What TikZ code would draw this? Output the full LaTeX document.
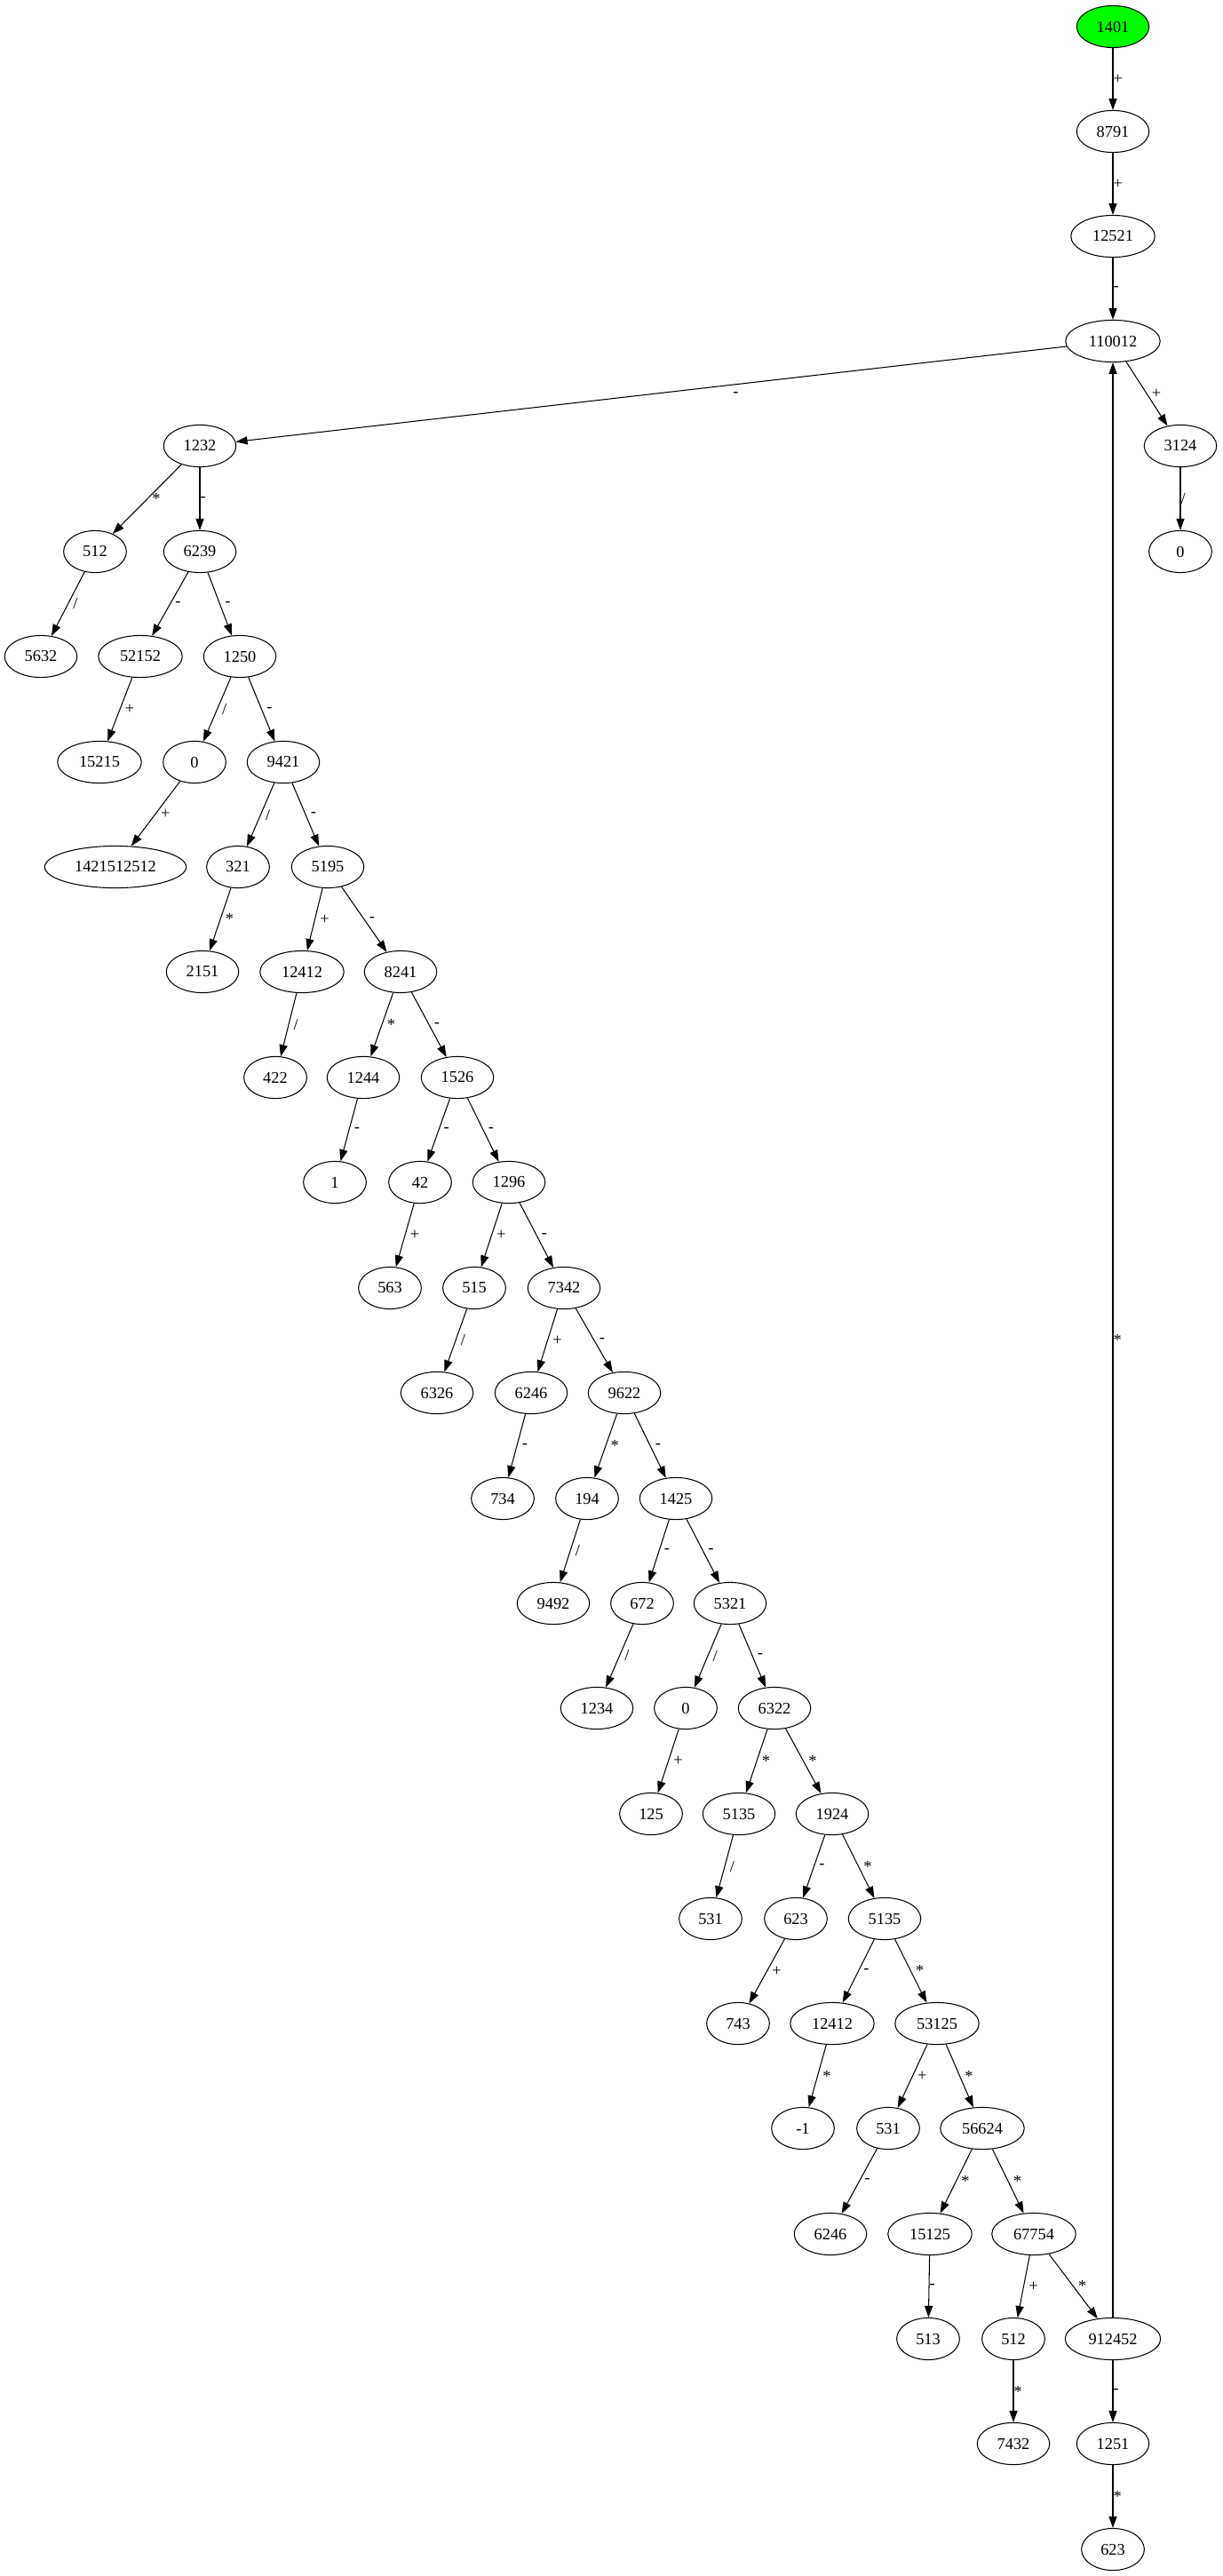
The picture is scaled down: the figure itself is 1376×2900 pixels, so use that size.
\documentclass[tikz,border=0pt]{standalone}
\usepackage{fontspec}
\setmainfont{Liberation Serif}
\usetikzlibrary{arrows.meta,shapes.geometric}
\definecolor{rootgreen}{RGB}{0,255,0}
\begin{document}
\begin{tikzpicture}[>={Triangle[length=10pt,width=7pt]},x=0.7634pt,y=-0.7634pt,line width=0.8pt,
	every node/.style={font=\fontsize{14}{16}\selectfont},
	num/.style={ellipse,draw,line width=0.8pt,minimum width=54pt,minimum height=36pt,inner xsep=8pt,inner ysep=2pt},
	lbl/.style={midway,anchor=west,inner sep=0pt,xshift=4pt},
	vlbl/.style={midway,anchor=west,inner sep=0pt,xshift=0pt}]
		\useasboundingbox (0,0) rectangle (1376,2900);
		\node[num,fill=rootgreen] (n1401) at (1253,30) {1401};
		\node[num] (n8791) at (1253,148) {8791};
		\node[num] (n12521) at (1253,266) {12521};
		\node[num] (n110012) at (1253,384) {110012};
		\node[num] (n1232) at (225,502) {1232};
		\node[num] (n3124) at (1329,502) {3124};
		\node[num] (n512a) at (107,621) {512};
		\node[num] (n6239) at (225,621) {6239};
		\node[num] (n0a) at (1329,621) {0};
		\node[num] (n5632) at (46,739) {5632};
		\node[num] (n52152) at (158,739) {52152};
		\node[num] (n1250) at (270,739) {1250};
		\node[num] (n15215) at (112,858) {15215};
		\node[num] (n0b) at (219,858) {0};
		\node[num] (n9421) at (319,858) {9421};
		\node[num] (n1421512512) at (130,976) {1421512512};
		\node[num] (n321) at (268,976) {321};
		\node[num] (n5195) at (369,976) {5195};
		\node[num] (n2151) at (228,1094) {2151};
		\node[num] (n12412a) at (340,1094) {12412};
		\node[num] (n8241) at (451,1094) {8241};
		\node[num] (n422) at (310,1213) {422};
		\node[num] (n1244) at (409,1213) {1244};
		\node[num] (n1526) at (515,1213) {1526};
		\node[num] (n1) at (377,1331) {1};
		\node[num] (n42) at (473,1331) {42};
		\node[num] (n1296) at (573,1331) {1296};
		\node[num] (n563) at (439,1450) {563};
		\node[num] (n515) at (534,1450) {515};
		\node[num] (n7342) at (635,1450) {7342};
		\node[num] (n6326) at (492,1568) {6326};
		\node[num] (n6246a) at (598,1568) {6246};
		\node[num] (n9622) at (703,1568) {9622};
		\node[num] (n734) at (566,1687) {734};
		\node[num] (n194) at (661,1687) {194};
		\node[num] (n1425) at (761,1687) {1425};
		\node[num] (n9492) at (623,1805) {9492};
		\node[num] (n672) at (723,1805) {672};
		\node[num] (n5321) at (822,1805) {5321};
		\node[num] (n1234) at (672,1923) {1234};
		\node[num] (n0c) at (772,1923) {0};
		\node[num] (n6322) at (872,1923) {6322};
		\node[num] (n125) at (733,2042) {125};
		\node[num] (n5135a) at (832,2042) {5135};
		\node[num] (n1924) at (937,2042) {1924};
		\node[num] (n531a) at (800,2160) {531};
		\node[num] (n623a) at (896,2160) {623};
		\node[num] (n5135b) at (996,2160) {5135};
		\node[num] (n743) at (831,2278) {743};
		\node[num] (n12412b) at (937,2278) {12412};
		\node[num] (n53125) at (1055,2278) {53125};
		\node[num] (nm1) at (904,2396) {-1};
		\node[num] (n531b) at (1000,2396) {531};
		\node[num] (n56624) at (1106,2396) {56624};
		\node[num] (n6246b) at (935,2515) {6246};
		\node[num] (n15125) at (1047,2515) {15125};
		\node[num] (n67754) at (1164,2515) {67754};
		\node[num] (n513) at (1045,2633) {513};
		\node[num] (n512b) at (1141,2633) {512};
		\node[num] (n912452) at (1253,2633) {912452};
		\node[num] (n7432) at (1141,2751) {7432};
		\node[num] (n1251) at (1253,2751) {1251};
		\node[num] (n623b) at (1253,2870) {623};
		\draw[->] (n1401) -- node[vlbl]{+} (n8791);
		\draw[->] (n8791) -- node[vlbl]{+} (n12521);
		\draw[->] (n12521) -- node[vlbl]{-} (n110012);
		\draw[->] (n110012) -- node[lbl,xshift=66pt]{-} (n1232);
		\draw[->] (n110012) -- node[lbl]{+} (n3124);
		\draw[->] (n3124) -- node[vlbl]{/} (n0a);
		\draw[->] (n1232) -- node[lbl]{*} (n512a);
		\draw[->] (n1232) -- node[vlbl]{-} (n6239);
		\draw[->] (n512a) -- node[lbl]{/} (n5632);
		\draw[->] (n6239) -- node[lbl]{-} (n52152);
		\draw[->] (n6239) -- node[lbl]{-} (n1250);
		\draw[->] (n52152) -- node[lbl]{+} (n15215);
		\draw[->] (n1250) -- node[lbl]{/} (n0b);
		\draw[->] (n1250) -- node[lbl]{-} (n9421);
		\draw[->] (n0b) -- node[lbl]{+} (n1421512512);
		\draw[->] (n9421) -- node[lbl]{/} (n321);
		\draw[->] (n9421) -- node[lbl]{-} (n5195);
		\draw[->] (n321) -- node[lbl]{*} (n2151);
		\draw[->] (n5195) -- node[lbl]{+} (n12412a);
		\draw[->] (n5195) -- node[lbl]{-} (n8241);
		\draw[->] (n12412a) -- node[lbl]{/} (n422);
		\draw[->] (n8241) -- node[lbl]{*} (n1244);
		\draw[->] (n8241) -- node[lbl]{-} (n1526);
		\draw[->] (n1244) -- node[lbl]{-} (n1);
		\draw[->] (n1526) -- node[lbl]{-} (n42);
		\draw[->] (n1526) -- node[lbl]{-} (n1296);
		\draw[->] (n42) -- node[lbl]{+} (n563);
		\draw[->] (n1296) -- node[lbl]{+} (n515);
		\draw[->] (n1296) -- node[lbl]{-} (n7342);
		\draw[->] (n515) -- node[lbl]{/} (n6326);
		\draw[->] (n7342) -- node[lbl]{+} (n6246a);
		\draw[->] (n7342) -- node[lbl]{-} (n9622);
		\draw[->] (n6246a) -- node[lbl]{-} (n734);
		\draw[->] (n9622) -- node[lbl]{*} (n194);
		\draw[->] (n9622) -- node[lbl]{-} (n1425);
		\draw[->] (n194) -- node[lbl]{/} (n9492);
		\draw[->] (n1425) -- node[lbl]{-} (n672);
		\draw[->] (n1425) -- node[lbl]{-} (n5321);
		\draw[->] (n672) -- node[lbl]{/} (n1234);
		\draw[->] (n5321) -- node[lbl]{/} (n0c);
		\draw[->] (n5321) -- node[lbl]{-} (n6322);
		\draw[->] (n0c) -- node[lbl]{+} (n125);
		\draw[->] (n6322) -- node[lbl]{*} (n5135a);
		\draw[->] (n6322) -- node[lbl]{*} (n1924);
		\draw[->] (n5135a) -- node[lbl]{/} (n531a);
		\draw[->] (n1924) -- node[lbl]{-} (n623a);
		\draw[->] (n1924) -- node[lbl]{*} (n5135b);
		\draw[->] (n623a) -- node[lbl]{+} (n743);
		\draw[->] (n5135b) -- node[lbl]{-} (n12412b);
		\draw[->] (n5135b) -- node[lbl]{*} (n53125);
		\draw[->] (n12412b) -- node[lbl]{*} (nm1);
		\draw[->] (n53125) -- node[lbl]{+} (n531b);
		\draw[->] (n53125) -- node[lbl]{*} (n56624);
		\draw[->] (n531b) -- node[lbl]{-} (n6246b);
		\draw[->] (n56624) -- node[lbl]{*} (n15125);
		\draw[->] (n56624) -- node[lbl]{*} (n67754);
		\draw[->] (n15125) -- node[vlbl]{-} (n513);
		\draw[->] (n67754) -- node[lbl]{+} (n512b);
		\draw[->] (n67754) -- node[lbl]{*} (n912452);
		\draw[->] (n512b) -- node[vlbl]{*} (n7432);
		\draw[->] (n912452) -- node[vlbl]{-} (n1251);
		\draw[->] (n1251) -- node[vlbl]{*} (n623b);
		\draw[->] (n912452) -- node[vlbl]{*} (n110012);
\end{tikzpicture}
\end{document}
